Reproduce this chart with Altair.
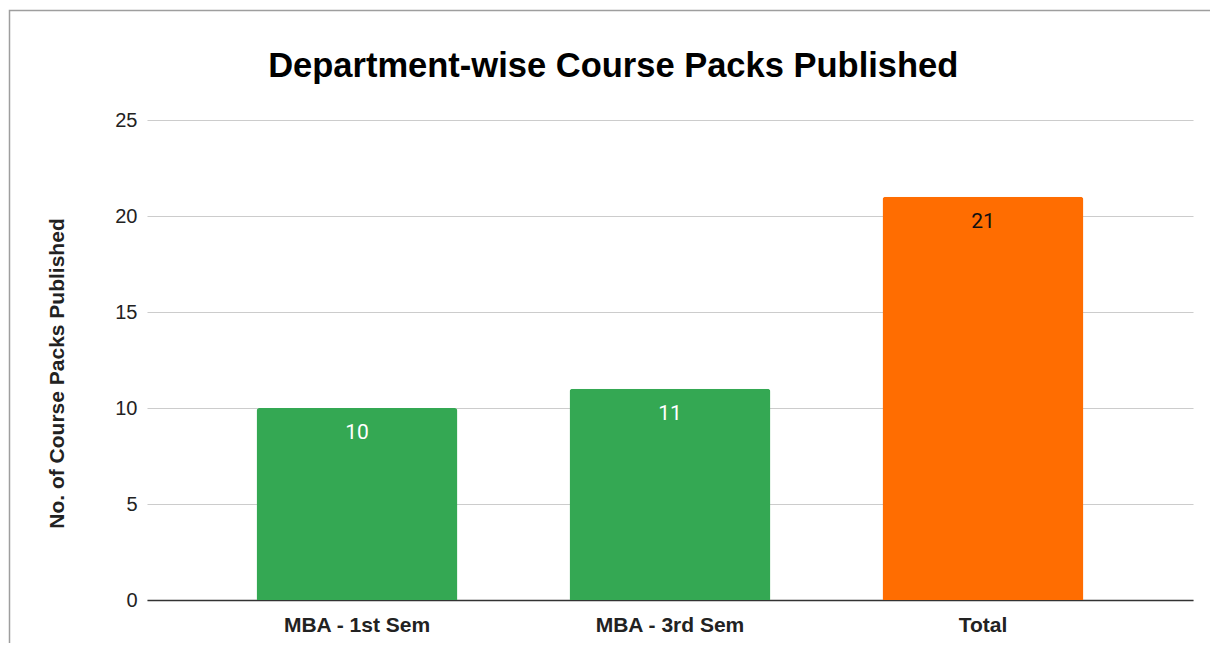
import altair as alt
import pandas as pd

categories = ["MBA - 1st Sem", "MBA - 3rd Sem", "Total"]
values = [10, 11, 21]
bar_colors = ["#34A853", "#34A853", "#FF6D01"]

df = pd.DataFrame({"category": categories, "value": values})

W, H = 1046, 480
PL, PT = 139, 112

yscale = alt.Scale(domain=[0, 25], nice=False)

x = alt.X("category:N", sort=categories, title=None,
          scale=alt.Scale(paddingInner=0.358, paddingOuter=0.35),
          axis=alt.Axis(labelFont="Liberation Sans", labelFontWeight="bold",
                        labelFontSize=21, labelColor="#222222", labelAngle=0,
                        labelPadding=14, ticks=False, domainColor="#333333",
                        domainWidth=1.5, grid=False))

y = alt.Y("value:Q", title="No. of Course Packs Published", scale=yscale,
          axis=alt.Axis(values=[0, 5, 10, 15, 20, 25], labelFont="Liberation Sans",
                        labelFontSize=20, labelColor="#222222", labelPadding=10,
                        ticks=False, domain=False, gridColor="#cccccc", gridWidth=1.2,
                        titleFont="Liberation Sans", titleFontWeight="bold",
                        titleFontSize=21, titleColor="#222222",
                        titleX=-90, titleY=253, titleAngle=-90,
                        titleAlign="center", titleBaseline="middle"))

border = alt.Chart(df).mark_rect(fill=None, stroke="#9e9e9e", strokeWidth=1.5).encode(
    x=alt.value(-137.5), x2=alt.value(W + 60), y=alt.value(-109.5), y2=alt.value(H + 80)
).transform_filter(alt.datum.category == "Total")

bars = alt.Chart(df).mark_bar(cornerRadiusTopLeft=3, cornerRadiusTopRight=3).encode(
    x=x, y=y,
    color=alt.Color("category:N", scale=alt.Scale(domain=categories, range=bar_colors), legend=None),
)

labels = alt.Chart(df).mark_text(font="Roboto", fontSize=21, baseline="top", dy=14).encode(
    x=alt.X("category:N", sort=categories),
    y=alt.Y("value:Q", scale=yscale),
    text=alt.Text("value:Q"),
    color=alt.condition(alt.datum.category == "Total", alt.value("#111111"), alt.value("#ffffff")),
)

chart = alt.layer(border, bars, labels).properties(
    width=W, height=H,
    title=alt.TitleParams("Department-wise Course Packs Published", font="Liberation Sans",
                          fontSize=34.5, fontWeight="bold", color="#000000", anchor="middle",
                          frame="bounds", orient="top", baseline="alphabetic", offset=0,
                          dy=102, dx=-18),
    padding={"left": PL, "top": PT, "right": 17, "bottom": 43},
    autosize=alt.AutoSizeParams(type="none"),
).configure_view(stroke=None)

chart.save("out.html", embed_options={"renderer": "svg", "actions": False})
